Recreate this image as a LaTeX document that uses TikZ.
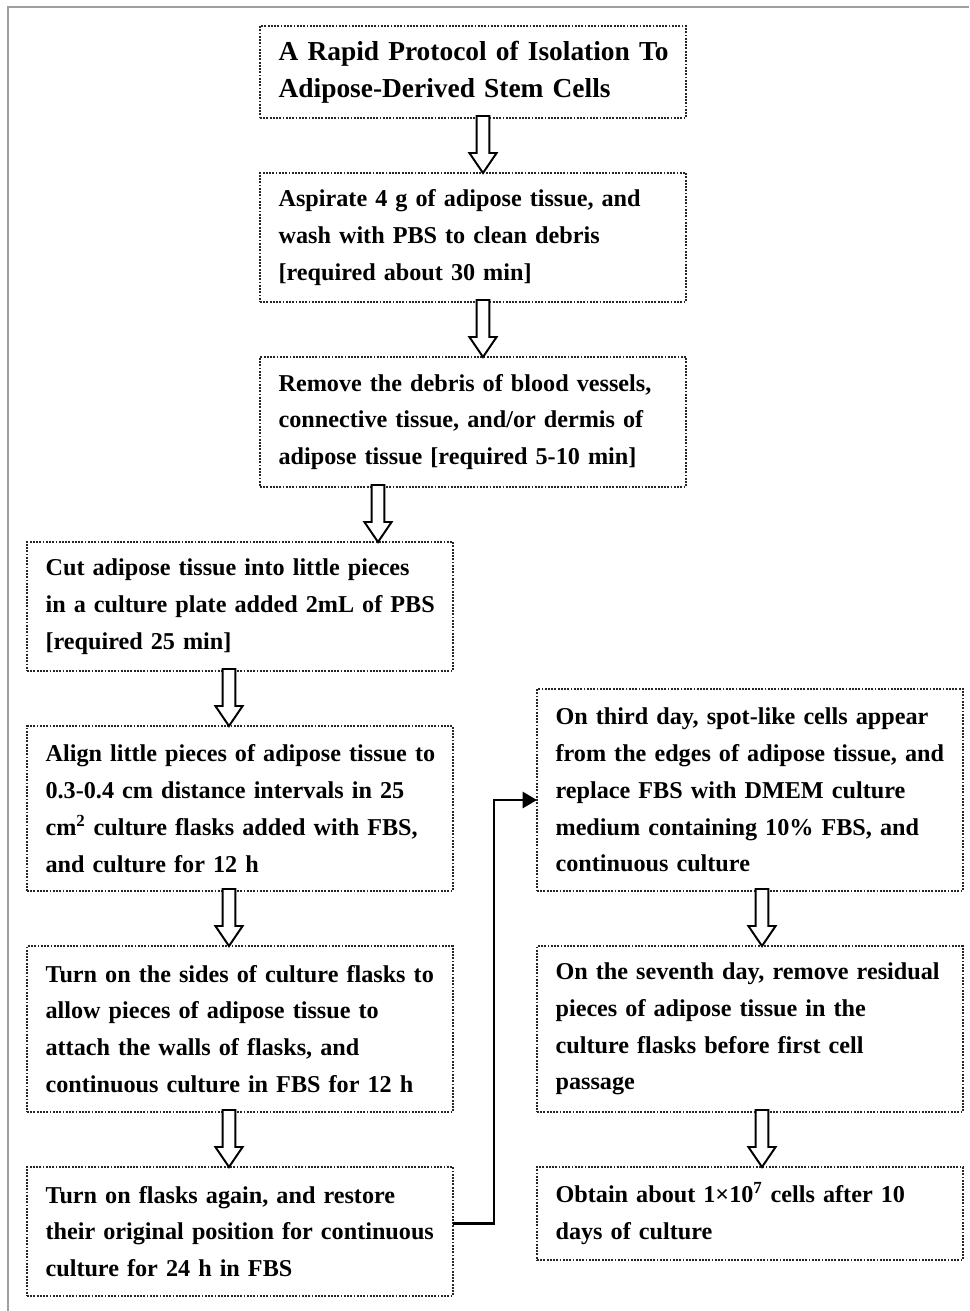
\documentclass[tikz,border=0pt]{standalone}
\usepackage{fontspec}
\setmainfont{Liberation Serif}
\usepackage{tikz}
\usetikzlibrary{positioning, arrows.meta, calc}

\newlength{\boxtextwidth}
\setlength{\boxtextwidth}{9.72cm}

% one justified line of a box
\newcommand{\fullline}[1]{\makebox[\boxtextwidth][s]{#1}\\}

% hollow down arrow: #1 = offset from west side of source, #2 = source, #3 = target
\newcommand{\flowarrow}[3]{%
    \draw[hollowarrow] let \p1 = ($(#2.south west)+(#1,0)$), \p2 = (#3.north) in
        (\x1-0.16cm,\y1+0.05cm) -- (\x1-0.16cm,\y2+0.5cm) -- (\x1-0.34cm,\y2+0.5cm)
        -- (\x1,\y2) -- (\x1+0.34cm,\y2+0.5cm) -- (\x1+0.16cm,\y2+0.5cm)
        -- (\x1+0.16cm,\y1+0.05cm) -- cycle;
}

\begin{document}
\begin{tikzpicture}[
    node distance=1.375cm,
    stepbox/.style={
        rectangle,
        draw=black!85,
        line width=1.3pt,
        dash pattern=on 1.3pt off 1pt,
        text width=\boxtextwidth,
        inner xsep=0.465cm,
        inner ysep=0pt,
        outer sep=0pt,
        align=left,
        font=\bfseries\fontsize{17.2}{26.2}\selectfont
    },
    hollowarrow/.style={draw=black, line width=1.4pt, fill=white},
    linkline/.style={draw=black, line width=2.1pt, -{Triangle[length=0.36cm,width=0.4cm]}}
]
    \useasboundingbox (0,0) rectangle (24.225,-32.775);

    % Frame
    \draw[gray!75, line width=1.4pt] (0.2,-32.775) -- (0.2,-0.175) -- (24.225,-0.175);

    % Title
    \node[stepbox, anchor=north west, minimum height=2.3cm,
          font=\bfseries\fontsize{19.5}{26.2}\selectfont] (title) at (6.5,-0.65)
        {\fullline{A Rapid Protocol of Isolation To}Adipose-Derived Stem Cells};

    % Preparation
    \node[stepbox, below=of title, minimum height=3.225cm] (aspirate)
        {\fullline{Aspirate 4 g of adipose tissue, and}
         \fullline{wash with PBS to clean debris}
         {}[required about 30 min]};
    \node[stepbox, below=of aspirate, minimum height=3.25cm] (remove)
        {\fullline{Remove the debris of blood vessels,}
         \fullline{connective tissue, and/or dermis of}
         adipose tissue [required 5-10 min]};

    % Left column
    \node[stepbox, below=of remove, xshift=-5.825cm, minimum height=3.225cm] (cut)
        {\fullline{Cut adipose tissue into little pieces}
         \fullline{in a culture plate added 2mL of PBS}
         {}[required 25 min]};
    \node[stepbox, below=of cut, minimum height=4.125cm] (align)
        {\fullline{Align little pieces of adipose tissue to}
         \fullline{0.3-0.4 cm distance intervals in 25}
         \fullline{cm\textsuperscript{2} culture flasks added with FBS,}
         and culture for 12 h};
    \node[stepbox, below=of align, minimum height=4.15cm] (turn)
        {\fullline{Turn on the sides of culture flasks to}
         \fullline{allow pieces of adipose tissue to}
         \fullline{attach the walls of flasks, and}
         continuous culture in FBS for 12 h};
    \node[stepbox, below=of turn, minimum height=3.225cm] (restore)
        {\fullline{Turn on flasks again, and restore}
         \fullline{their original position for continuous}
         culture for 24 h in FBS};

    % Right column
    \node[stepbox, right=2.1cm of align.south east, anchor=south west, minimum height=5.05cm] (third)
        {\fullline{On third day, spot-like cells appear}
         \fullline{from the edges of adipose tissue, and}
         \fullline{replace FBS with DMEM culture}
         \fullline{medium containing 10\% FBS, and}
         continuous culture};
    \node[stepbox, below=of third, minimum height=4.15cm] (seventh)
        {\fullline{On the seventh day, remove residual}
         \fullline{pieces of adipose tissue in the}
         \fullline{culture flasks before first cell}
         passage};
    \node[stepbox, below=of seventh, minimum height=2.325cm] (obtain)
        {\fullline{Obtain about 1×10\textsuperscript{7} cells after 10}
         days of culture};

    % Arrows
    \flowarrow{5.575}{title}{aspirate}
    \flowarrow{5.575}{aspirate}{remove}
    \flowarrow{2.95}{remove}{cut}
    \flowarrow{5.05}{cut}{align}
    \flowarrow{5.05}{align}{turn}
    \flowarrow{5.05}{turn}{restore}
    \flowarrow{5.625}{third}{seventh}
    \flowarrow{5.625}{seventh}{obtain}

    \draw[linkline] ([yshift=0.2cm]restore.east) -- ++(1.025,0) |- ([yshift=-0.25cm]third.west);
\end{tikzpicture}
\end{document}
